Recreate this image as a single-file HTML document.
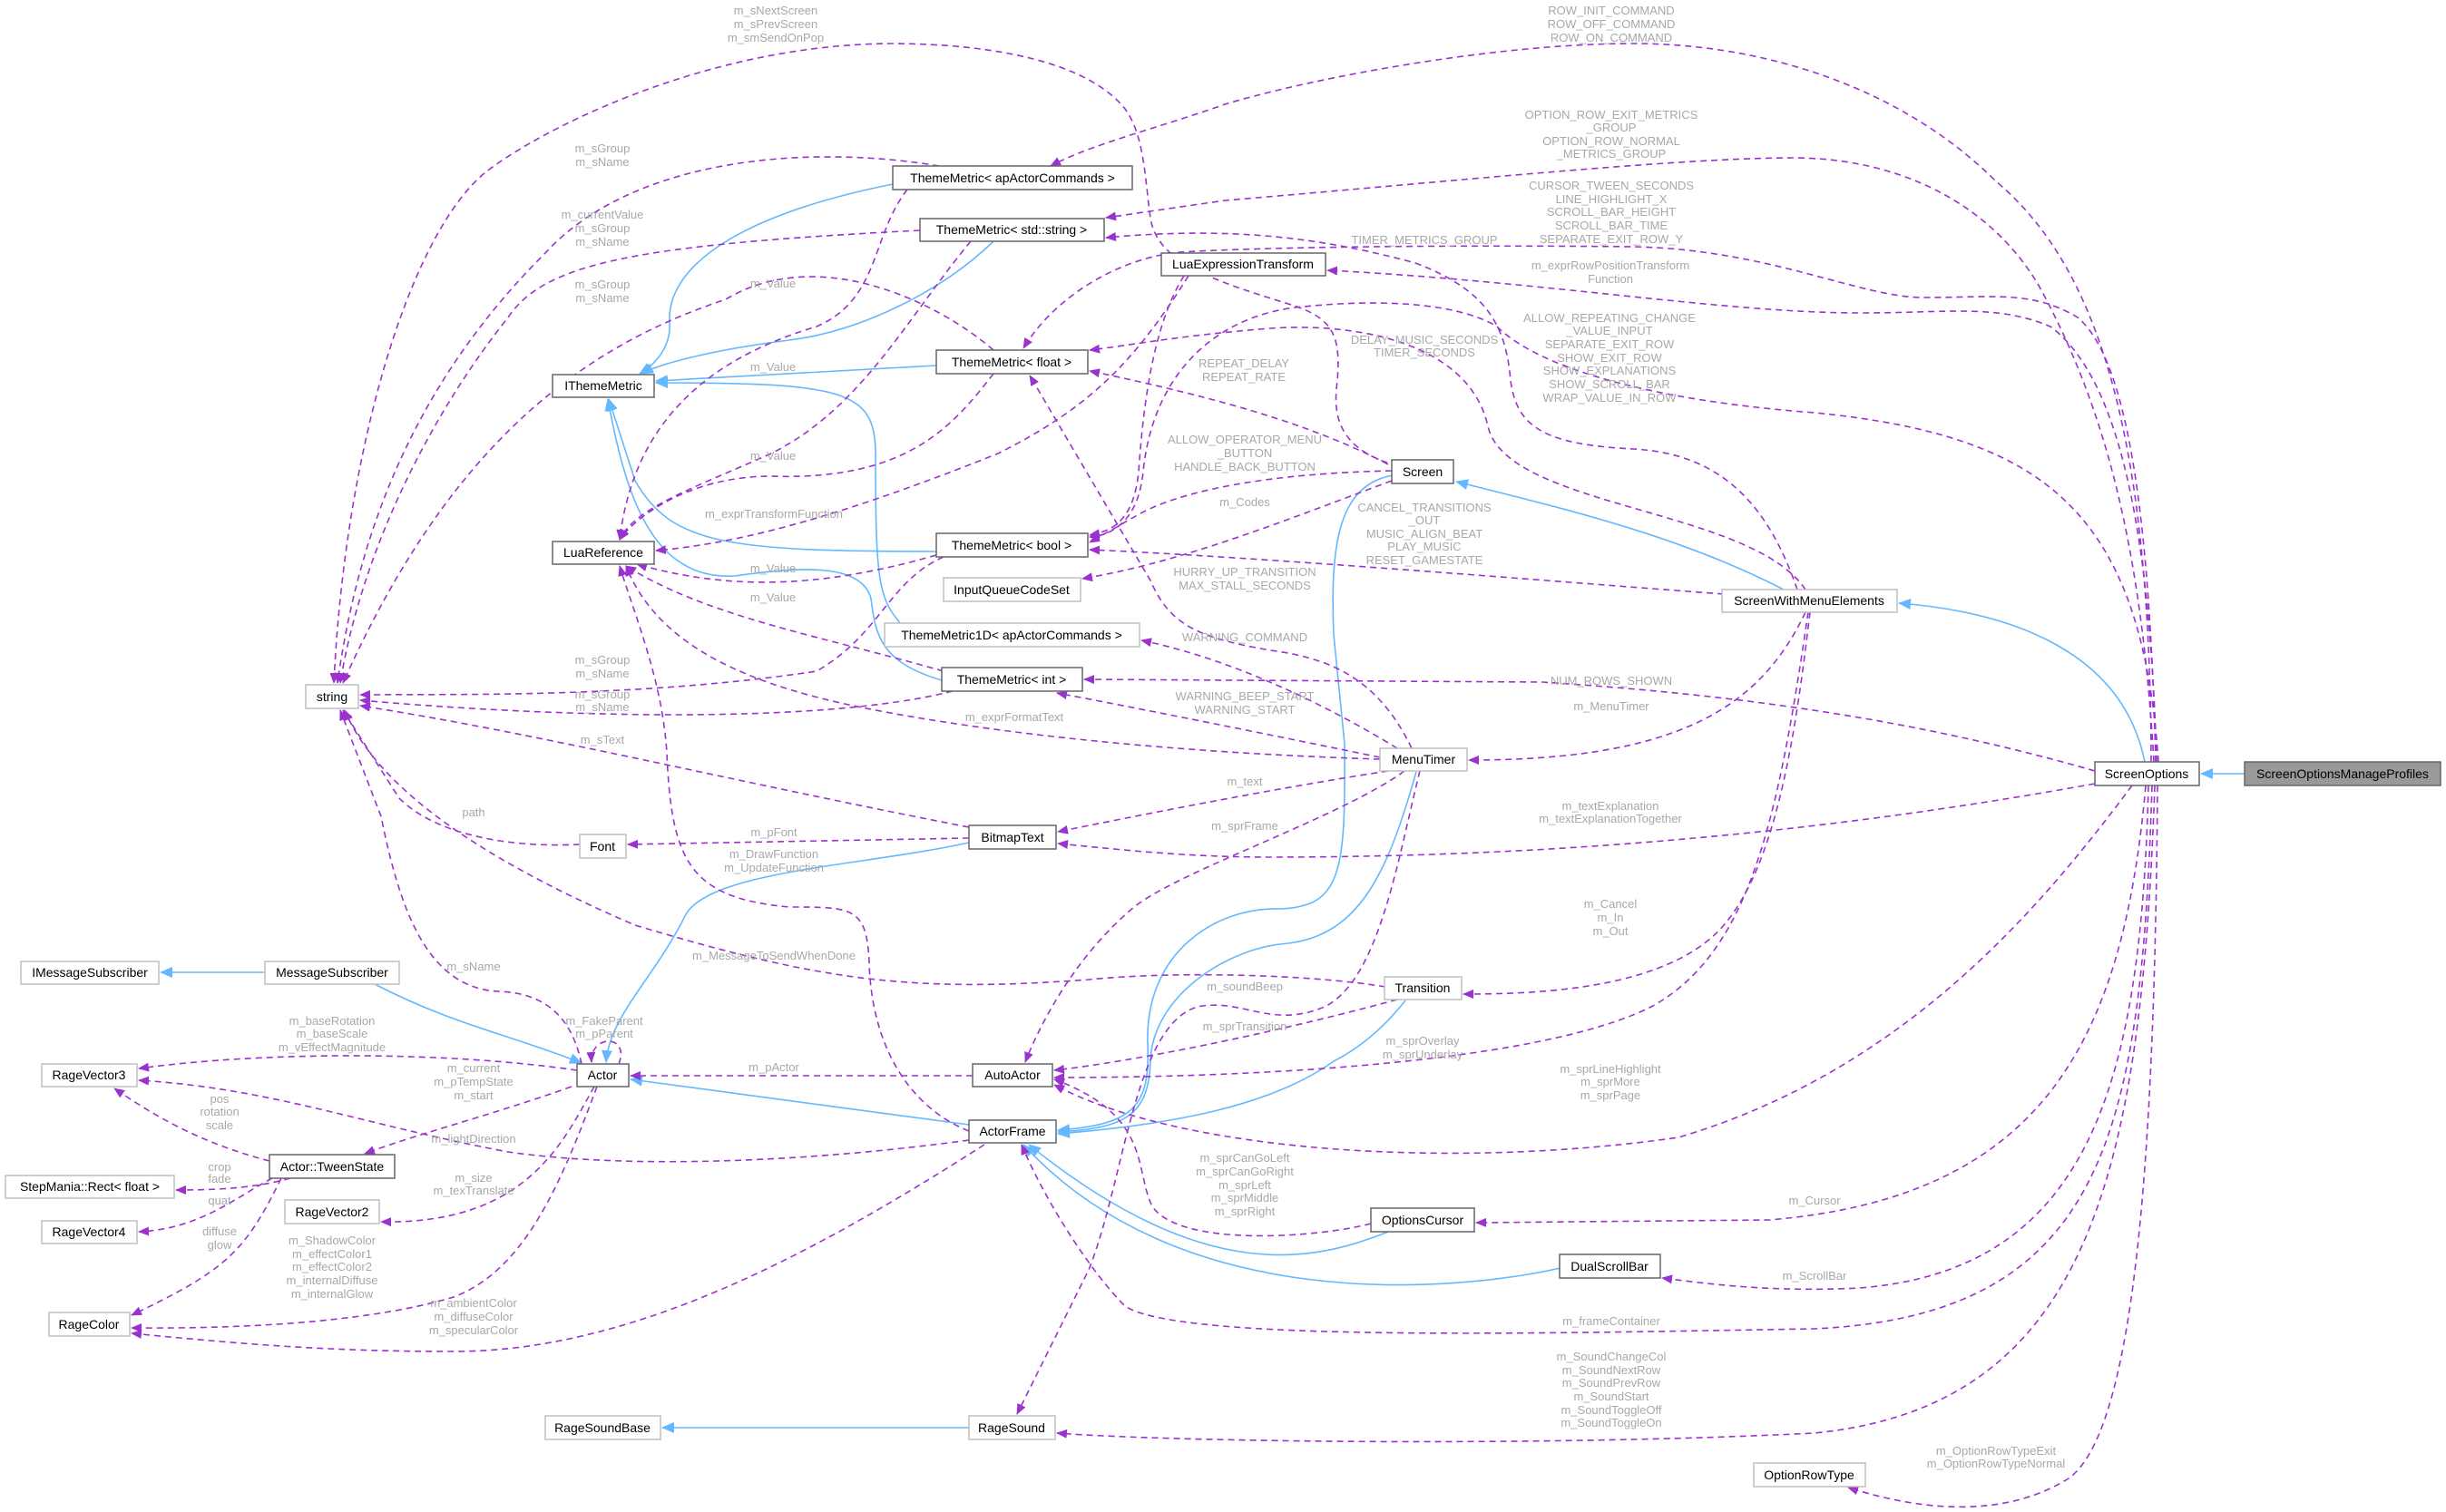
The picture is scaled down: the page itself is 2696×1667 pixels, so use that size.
<!DOCTYPE html>
<html><head><meta charset="utf-8"><style>
html,body{margin:0;padding:0;background:#fff;}
svg{display:block;font-family:"Liberation Sans",sans-serif;}
.n rect{fill:#fff;stroke:#666;stroke-width:1.5}
.l rect{fill:#fff;stroke:#bfbfbf;stroke-width:1.5}
.n text,.l text{font-size:14px;fill:#000;text-anchor:middle}
.d{fill:none;stroke:#9a32cd;stroke-width:1.6;stroke-dasharray:7,5;marker-end:url(#pa)}
.b{fill:none;stroke:#63b8ff;stroke-width:1.6;marker-end:url(#ba)}
.t{font-size:13px;fill:#a8a8a8;text-anchor:middle}
</style></head><body>
<svg width="2696" height="1667" viewBox="0 0 2696 1667" xmlns="http://www.w3.org/2000/svg">
<defs>
<marker id="pa" markerWidth="12" markerHeight="10" refX="11" refY="5" orient="auto" markerUnits="userSpaceOnUse"><path d="M0,0 L12,5 L0,10 z" fill="#9a32cd"/></marker>
<marker id="ba" markerWidth="14" markerHeight="12" refX="13" refY="6" orient="auto" markerUnits="userSpaceOnUse"><path d="M0,0 L14,6 L0,12 z" fill="#63b8ff"/></marker>
</defs>

<!-- inheritance -->
<path class="b" d="M2474,853 L2426,853"/>
<path class="b" d="M2364,840 C2340,720 2220,675 2093,665"/>
<path class="b" d="M1966,650 C1850,590 1720,560 1605,531"/>
<path class="b" d="M1535,524 C1475,535 1466,600 1470,700 L1482,820 C1483,960 1480,1000 1410,1002 C1340,1000 1262,1050 1265,1150 C1268,1220 1250,1240 1166,1246"/>
<path class="b" d="M1561,851 C1530,960 1500,1030 1420,1040 C1350,1045 1270,1100 1268,1170 C1266,1230 1240,1244 1166,1248"/>
<path class="b" d="M1549,1103 C1520,1140 1490,1160 1470,1170 C1400,1220 1290,1240 1166,1250"/>
<path class="b" d="M1530,1358 C1450,1390 1330,1420 1134,1262"/>
<path class="b" d="M1720,1398 C1600,1425 1300,1450 1128,1262"/>
<path class="b" d="M1068,1240 L695,1190"/>
<path class="b" d="M1068,929 C950,955 780,960 755,1010 C720,1080 672,1120 668,1171"/>
<path class="b" d="M413,1085 C500,1130 560,1140 641,1172"/>
<path class="b" d="M292,1072 L177,1072"/>
<path class="b" d="M984,203 C800,240 735,300 738,355 C740,380 725,400 705,412"/>
<path class="b" d="M1095,266 C1040,320 950,365 870,375 C790,385 730,400 707,412"/>
<path class="b" d="M1032,403 L723,420"/>
<path class="b" d="M1032,608 C800,608 740,600 700,530 L671,440"/>
<path class="b" d="M994,689 C968,660 965,640 965,500 C965,430 930,422 723,422"/>
<path class="b" d="M1038,750 C970,730 965,700 960,660 C950,620 880,625 810,635 C720,640 690,550 670,440"/>
<path class="b" d="M1068,1574 L730,1574"/>

<!-- dependencies -->
<path class="d" d="M1529,510 C1470,490 1470,450 1474,420 C1478,370 1470,350 1420,335 C1340,310 1275,290 1268,240 C1262,200 1262,150 1240,120 C1200,70 1100,48 980,48 C780,50 600,140 535,190 C450,260 380,500 368,753"/>
<path class="d" d="M2371,840 C2370,500 2320,300 2200,200 C2100,100 1950,48 1800,48 C1650,48 1450,85 1350,115 C1280,140 1200,160 1158,183"/>
<path class="d" d="M2374,840 C2360,600 2320,450 2250,320 C2200,230 2100,174 1976,174 C1850,174 1600,200 1350,221 L1219,240"/>
<path class="d" d="M2376,840 C2370,600 2350,400 2290,350 C2240,320 2200,328 2120,328 C2050,328 1950,275 1800,272 C1600,270 1400,272 1300,278 C1230,285 1160,330 1128,384"/>
<path class="d" d="M2377,840 C2370,600 2340,420 2260,360 C2200,335 2150,345 2050,345 C1900,345 1700,310 1463,298"/>
<path class="d" d="M1981,650 C1950,560 1900,500 1800,495 C1700,490 1672,470 1665,420 C1660,360 1640,320 1560,290 C1450,260 1350,250 1219,262"/>
<path class="d" d="M1990,650 C1930,560 1660,560 1640,470 C1620,380 1500,355 1400,362 C1300,370 1250,380 1201,386"/>
<path class="d" d="M1530,512 C1450,470 1350,440 1201,409"/>
<path class="d" d="M2379,840 C2360,560 2250,480 2000,455 C1800,440 1690,400 1650,360 C1600,330 1500,330 1420,340 C1330,355 1270,420 1260,520 C1255,570 1230,590 1201,592"/>
<path class="d" d="M1534,519 C1400,522 1300,540 1250,570 L1201,598"/>
<path class="d" d="M1534,530 C1400,580 1300,620 1193,638"/>
<path class="d" d="M1900,655 C1700,640 1400,615 1201,606"/>
<path class="d" d="M1556,825 C1520,750 1470,730 1420,720 C1320,705 1290,690 1268,640 L1135,414"/>
<path class="d" d="M1540,825 C1450,770 1350,725 1258,706"/>
<path class="d" d="M1521,835 C1400,810 1250,780 1165,764"/>
<path class="d" d="M2309,850 C2100,790 1900,765 1700,752 L1195,749"/>
<path class="d" d="M1990,675 C1940,780 1850,838 1619,838"/>
<path class="d" d="M1521,837 C1300,830 1100,810 950,780 C800,750 720,700 690,624"/>
<path class="d" d="M1530,850 C1400,870 1250,900 1166,917"/>
<path class="d" d="M1548,850 C1480,900 1300,960 1250,1000 C1190,1050 1150,1120 1130,1171"/>
<path class="d" d="M1565,850 C1540,950 1520,1080 1460,1110 C1400,1135 1370,1100 1320,1110 C1250,1130 1240,1300 1200,1400 L1121,1559"/>
<path class="d" d="M2309,864 C2000,920 1700,945 1400,945 C1300,945 1220,935 1166,930"/>
<path class="d" d="M1995,675 C1980,800 1960,950 1900,1020 C1840,1090 1700,1096 1613,1096"/>
<path class="d" d="M1527,1088 C1450,1075 1300,1070 1200,1080 C1000,1095 900,1080 700,1020 C560,960 420,880 380,783"/>
<path class="d" d="M1540,1102 C1400,1140 1250,1170 1162,1180"/>
<path class="d" d="M1993,675 C1960,900 1930,1050 1820,1110 C1700,1170 1400,1188 1162,1188"/>
<path class="d" d="M2350,866 C2250,1000 2100,1180 1850,1254 C1600,1290 1300,1270 1162,1196"/>
<path class="d" d="M1511,1349 C1450,1365 1300,1375 1270,1330 C1250,1290 1270,1230 1162,1190"/>
<path class="d" d="M2365,866 C2340,1150 2250,1320 1950,1345 L1627,1348"/>
<path class="d" d="M2368,866 C2360,1200 2300,1400 2050,1420 C1950,1425 1880,1415 1832,1409"/>
<path class="d" d="M2372,866 C2360,1250 2320,1450 2000,1465 C1700,1470 1300,1480 1240,1440 C1200,1400 1150,1320 1126,1262"/>
<path class="d" d="M2375,866 C2360,1300 2300,1550 2000,1580 C1700,1595 1300,1590 1165,1580"/>
<path class="d" d="M2378,866 C2375,1300 2350,1580 2280,1630 C2200,1680 2100,1660 2037,1640"/>
<path class="d" d="M1068,1247 C1000,1220 960,1150 958,1060 C955,1000 940,1000 870,1000 C760,990 740,950 735,830 C730,750 700,680 683,624"/>
<path class="d" d="M1068,1257 C900,1280 700,1290 560,1270 C400,1240 300,1200 153,1191"/>
<path class="d" d="M1085,1262 C900,1380 700,1490 500,1490 C350,1490 250,1480 145,1470"/>
<path class="d" d="M1072,1186 L695,1186"/>
<path class="d" d="M641,1173 C630,1120 600,1095 550,1093 C470,1090 440,1000 420,900 L375,783"/>
<path class="d" d="M682,1173 C695,1140 650,1140 652,1171"/>
<path class="d" d="M636,1180 C500,1160 300,1158 153,1178"/>
<path class="d" d="M630,1198 C540,1230 460,1250 402,1272"/>
<path class="d" d="M655,1198 C620,1260 580,1350 420,1347"/>
<path class="d" d="M658,1198 C620,1300 580,1400 500,1430 C400,1460 250,1465 145,1464"/>
<path class="d" d="M297,1280 C220,1260 170,1230 126,1200"/>
<path class="d" d="M320,1299 C280,1310 240,1312 194,1312"/>
<path class="d" d="M300,1299 C260,1320 220,1355 153,1358"/>
<path class="d" d="M310,1299 C270,1380 250,1400 145,1450"/>
<path class="d" d="M1068,924 L692,931"/>
<path class="d" d="M639,931 C560,935 480,920 440,880 L378,783"/>
<path class="d" d="M1068,912 C800,860 600,810 397,778"/>
<path class="d" d="M1035,183 C900,160 700,170 600,280 C480,400 400,550 372,753"/>
<path class="d" d="M1000,209 C960,260 970,330 900,360 C800,390 700,450 683,595"/>
<path class="d" d="M1014,254 C700,270 600,290 560,350 C480,450 400,600 375,753"/>
<path class="d" d="M1070,266 C1000,350 950,450 850,500 C760,540 700,560 683,595"/>
<path class="d" d="M1095,386 C1030,330 900,270 800,330 C650,380 500,480 378,753"/>
<path class="d" d="M1095,412 C1050,470 1000,530 850,525 C760,525 700,570 683,595"/>
<path class="d" d="M1032,612 C900,650 800,650 702,622"/>
<path class="d" d="M1040,614 C980,640 970,700 900,740 C700,770 500,765 397,766"/>
<path class="d" d="M1310,304 C1250,400 1200,450 1100,500 C900,580 800,600 723,607"/>
<path class="d" d="M1305,304 C1270,360 1260,450 1255,520 C1250,570 1230,585 1201,590"/>
<path class="d" d="M1050,762 C900,800 600,790 397,772"/>
<path class="d" d="M1040,740 C900,700 780,680 690,624"/>

<!-- edge labels -->
<g class="t">
<text x="855" y="16">m_sNextScreen</text><text x="855" y="31">m_sPrevScreen</text><text x="855" y="46">m_smSendOnPop</text>
<text x="1776" y="16">ROW_INIT_COMMAND</text><text x="1776" y="31">ROW_OFF_COMMAND</text><text x="1776" y="46">ROW_ON_COMMAND</text>
<text x="664" y="168">m_sGroup</text><text x="664" y="183">m_sName</text>
<text x="664" y="241">m_currentValue</text><text x="664" y="256">m_sGroup</text><text x="664" y="271">m_sName</text>
<text x="664" y="318">m_sGroup</text><text x="664" y="333">m_sName</text>
<text x="852" y="317">m_Value</text><text x="852" y="409">m_Value</text><text x="852" y="507">m_Value</text>
<text x="853" y="571">m_exprTransformFunction</text><text x="852" y="631">m_Value</text><text x="852" y="663">m_Value</text>
<text x="664" y="732">m_sGroup</text><text x="664" y="747">m_sName</text>
<text x="664" y="770">m_sGroup</text><text x="664" y="784">m_sName</text>
<text x="1118" y="795">m_exprFormatText</text><text x="664" y="820">m_sText</text>
<text x="1776" y="131">OPTION_ROW_EXIT_METRICS</text><text x="1776" y="145">_GROUP</text><text x="1776" y="160">OPTION_ROW_NORMAL</text><text x="1776" y="174">_METRICS_GROUP</text>
<text x="1776" y="209">CURSOR_TWEEN_SECONDS</text><text x="1776" y="224">LINE_HIGHLIGHT_X</text><text x="1776" y="238">SCROLL_BAR_HEIGHT</text><text x="1776" y="253">SCROLL_BAR_TIME</text><text x="1776" y="268">SEPARATE_EXIT_ROW_Y</text>
<text x="1570" y="269">TIMER_METRICS_GROUP</text>
<text x="1775" y="297">m_exprRowPositionTransform</text><text x="1775" y="312">Function</text>
<text x="1774" y="355">ALLOW_REPEATING_CHANGE</text><text x="1774" y="369">_VALUE_INPUT</text><text x="1774" y="384">SEPARATE_EXIT_ROW</text><text x="1774" y="399">SHOW_EXIT_ROW</text><text x="1774" y="413">SHOW_EXPLANATIONS</text><text x="1774" y="428">SHOW_SCROLL_BAR</text><text x="1774" y="443">WRAP_VALUE_IN_ROW</text>
<text x="1570" y="379">DELAY_MUSIC_SECONDS</text><text x="1570" y="393">TIMER_SECONDS</text>
<text x="1371" y="405">REPEAT_DELAY</text><text x="1371" y="420">REPEAT_RATE</text>
<text x="1372" y="489">ALLOW_OPERATOR_MENU</text><text x="1372" y="504">_BUTTON</text><text x="1372" y="519">HANDLE_BACK_BUTTON</text>
<text x="1372" y="558">m_Codes</text>
<text x="1570" y="564">CANCEL_TRANSITIONS</text><text x="1570" y="578">_OUT</text><text x="1570" y="593">MUSIC_ALIGN_BEAT</text><text x="1570" y="607">PLAY_MUSIC</text><text x="1570" y="622">RESET_GAMESTATE</text>
<text x="1372" y="635">HURRY_UP_TRANSITION</text><text x="1372" y="650">MAX_STALL_SECONDS</text>
<text x="1372" y="707">WARNING_COMMAND</text>
<text x="1776" y="755">NUM_ROWS_SHOWN</text><text x="1776" y="783">m_MenuTimer</text>
<text x="1372" y="772">WARNING_BEEP_START</text><text x="1372" y="787">WARNING_START</text>
<text x="1372" y="866">m_text</text><text x="1372" y="915">m_sprFrame</text>
<text x="1775" y="893">m_textExplanation</text><text x="1775" y="907">m_textExplanationTogether</text>
<text x="1775" y="1001">m_Cancel</text><text x="1775" y="1016">m_In</text><text x="1775" y="1031">m_Out</text>
<text x="1372" y="1092">m_soundBeep</text><text x="1372" y="1136">m_sprTransition</text>
<text x="1568" y="1152">m_sprOverlay</text><text x="1568" y="1167">m_sprUnderlay</text>
<text x="1775" y="1183">m_sprLineHighlight</text><text x="1775" y="1197">m_sprMore</text><text x="1775" y="1212">m_sprPage</text>
<text x="1372" y="1281">m_sprCanGoLeft</text><text x="1372" y="1296">m_sprCanGoRight</text><text x="1372" y="1311">m_sprLeft</text><text x="1372" y="1325">m_sprMiddle</text><text x="1372" y="1340">m_sprRight</text>
<text x="2000" y="1328">m_Cursor</text><text x="2000" y="1411">m_ScrollBar</text><text x="1776" y="1461">m_frameContainer</text>
<text x="1776" y="1500">m_SoundChangeCol</text><text x="1776" y="1515">m_SoundNextRow</text><text x="1776" y="1529">m_SoundPrevRow</text><text x="1776" y="1544">m_SoundStart</text><text x="1776" y="1559">m_SoundToggleOff</text><text x="1776" y="1573">m_SoundToggleOn</text>
<text x="2200" y="1604">m_OptionRowTypeExit</text><text x="2200" y="1618">m_OptionRowTypeNormal</text>
<text x="522" y="900">path</text>
<text x="853" y="922">m_pFont</text><text x="853" y="946">m_DrawFunction</text><text x="853" y="961">m_UpdateFunction</text>
<text x="853" y="1058">m_MessageToSendWhenDone</text><text x="522" y="1070">m_sName</text>
<text x="666" y="1130">m_FakeParent</text><text x="666" y="1144">m_pParent</text>
<text x="366" y="1130">m_baseRotation</text><text x="366" y="1144">m_baseScale</text><text x="366" y="1159">m_vEffectMagnitude</text>
<text x="522" y="1182">m_current</text><text x="522" y="1197">m_pTempState</text><text x="522" y="1212">m_start</text>
<text x="853" y="1181">m_pActor</text>
<text x="242" y="1216">pos</text><text x="242" y="1230">rotation</text><text x="242" y="1245">scale</text>
<text x="522" y="1260">m_lightDirection</text>
<text x="242" y="1291">crop</text><text x="242" y="1304">fade</text><text x="242" y="1328">quat</text><text x="242" y="1362">diffuse</text><text x="242" y="1377">glow</text>
<text x="522" y="1303">m_size</text><text x="522" y="1317">m_texTranslate</text>
<text x="366" y="1372">m_ShadowColor</text><text x="366" y="1387">m_effectColor1</text><text x="366" y="1401">m_effectColor2</text><text x="366" y="1416">m_internalDiffuse</text><text x="366" y="1431">m_internalGlow</text>
<text x="522" y="1441">m_ambientColor</text><text x="522" y="1456">m_diffuseColor</text><text x="522" y="1471">m_specularColor</text>
</g>

<!-- nodes -->
<g class="n"><rect x="984" y="183" width="264" height="26"/><text x="1116" y="201">ThemeMetric&lt; apActorCommands &gt;</text></g>
<g class="n"><rect x="1014" y="241" width="203" height="25"/><text x="1115" y="258">ThemeMetric&lt; std::string &gt;</text></g>
<g class="n"><rect x="1280" y="279" width="181" height="25"/><text x="1370" y="296">LuaExpressionTransform</text></g>
<g class="n"><rect x="1032" y="386" width="167" height="26"/><text x="1115" y="404">ThemeMetric&lt; float &gt;</text></g>
<g class="n"><rect x="609" y="413" width="112" height="25"/><text x="665" y="430">IThemeMetric</text></g>
<g class="n"><rect x="609" y="597" width="112" height="25"/><text x="665" y="614">LuaReference</text></g>
<g class="n"><rect x="1032" y="588" width="167" height="26"/><text x="1115" y="606">ThemeMetric&lt; bool &gt;</text></g>
<g class="l"><rect x="1040" y="637" width="151" height="26"/><text x="1115" y="655">InputQueueCodeSet</text></g>
<g class="l"><rect x="975" y="687" width="281" height="26"/><text x="1115" y="705">ThemeMetric1D&lt; apActorCommands &gt;</text></g>
<g class="n"><rect x="1038" y="736" width="155" height="26"/><text x="1115" y="754">ThemeMetric&lt; int &gt;</text></g>
<g class="l"><rect x="337" y="755" width="58" height="26"/><text x="366" y="773">string</text></g>
<g class="n"><rect x="1534" y="507" width="68" height="26"/><text x="1568" y="525">Screen</text></g>
<g class="l"><rect x="1898" y="650" width="193" height="25"/><text x="1994" y="667">ScreenWithMenuElements</text></g>
<g class="l"><rect x="1521" y="825" width="96" height="25"/><text x="1569" y="842">MenuTimer</text></g>
<g class="n"><rect x="2309" y="840" width="115" height="26"/><text x="2366" y="858">ScreenOptions</text></g>
<g><rect x="2474" y="840" width="216" height="26" fill="#999" stroke="#666" stroke-width="1.5"/><text x="2582" y="858" font-size="14" text-anchor="middle" fill="#000">ScreenOptionsManageProfiles</text></g>
<g class="n"><rect x="1068" y="910" width="96" height="26"/><text x="1116" y="928">BitmapText</text></g>
<g class="l"><rect x="639" y="920" width="51" height="26"/><text x="664" y="938">Font</text></g>
<g class="l"><rect x="1526" y="1077" width="85" height="25"/><text x="1568" y="1094">Transition</text></g>
<g class="l"><rect x="23" y="1060" width="152" height="25"/><text x="99" y="1077">IMessageSubscriber</text></g>
<g class="l"><rect x="292" y="1060" width="148" height="25"/><text x="366" y="1077">MessageSubscriber</text></g>
<g class="l"><rect x="46" y="1173" width="105" height="25"/><text x="98" y="1190">RageVector3</text></g>
<g class="n"><rect x="636" y="1173" width="57" height="25"/><text x="664" y="1190">Actor</text></g>
<g class="n"><rect x="1072" y="1173" width="88" height="25"/><text x="1116" y="1190">AutoActor</text></g>
<g class="n"><rect x="1068" y="1235" width="96" height="25"/><text x="1116" y="1252">ActorFrame</text></g>
<g class="n"><rect x="297" y="1273" width="138" height="26"/><text x="366" y="1291">Actor::TweenState</text></g>
<g class="l"><rect x="6" y="1296" width="186" height="25"/><text x="99" y="1313">StepMania::Rect&lt; float &gt;</text></g>
<g class="l"><rect x="314" y="1323" width="104" height="26"/><text x="366" y="1341">RageVector2</text></g>
<g class="l"><rect x="46" y="1346" width="105" height="25"/><text x="98" y="1363">RageVector4</text></g>
<g class="n"><rect x="1511" y="1332" width="114" height="26"/><text x="1568" y="1350">OptionsCursor</text></g>
<g class="n"><rect x="1719" y="1383" width="111" height="26"/><text x="1774" y="1401">DualScrollBar</text></g>
<g class="l"><rect x="54" y="1447" width="89" height="26"/><text x="98" y="1465">RageColor</text></g>
<g class="l"><rect x="601" y="1561" width="127" height="26"/><text x="664" y="1579">RageSoundBase</text></g>
<g class="l"><rect x="1068" y="1561" width="95" height="26"/><text x="1115" y="1579">RageSound</text></g>
<g class="l"><rect x="1933" y="1613" width="123" height="26"/><text x="1994" y="1631">OptionRowType</text></g>
</svg>
</body></html>
